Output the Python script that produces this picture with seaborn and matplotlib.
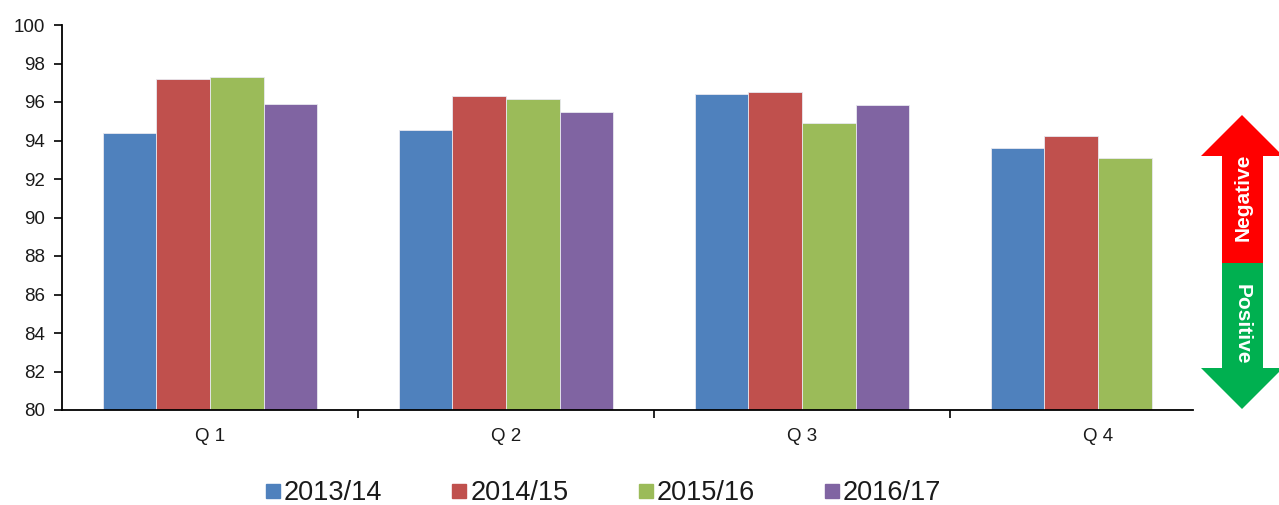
import matplotlib
matplotlib.use("Agg")
import matplotlib.pyplot as plt
from matplotlib.patches import Polygon
from matplotlib.lines import Line2D
import numpy as np
import pandas as pd
import seaborn as sns

quarters = ["Q 1", "Q 2", "Q 3", "Q 4"]
years = ["2013/14", "2014/15", "2015/16", "2016/17"]
v_2013 = [94.4, 94.55, 96.4, 93.6]
v_2014 = [97.2, 96.3, 96.5, 94.25]
v_2015 = [97.3, 96.15, 94.9, 93.1]
v_2016 = [95.9, 95.5, 95.85, np.nan]
colors = ["#4F81BD", "#C0504D", "#9BBB59", "#8064A2"]

rows = []
for yr, vals in zip(years, [v_2013, v_2014, v_2015, v_2016]):
    for q, v in zip(quarters, vals):
        rows.append({"Quarter": q, "Year": yr, "Value": v})
df = pd.DataFrame(rows)

sns.set_theme(style="white")
plt.rcParams["font.family"] = ["Liberation Sans", "DejaVu Sans"]

W, H = 1279, 505
fig = plt.figure(figsize=(W / 100, H / 100), dpi=100)
ax = fig.add_axes([62 / W, 1 - 410 / H, (1246 - 62) / W, (410 - 25) / H])

sns.barplot(data=df, x="Quarter", y="Value", hue="Year", order=quarters,
            hue_order=years, palette=colors, width=0.726, ax=ax,
            edgecolor="#E8E8F0", linewidth=0.6, legend=False, saturation=1)

ax.set_ylim(80, 100)
ax.set_xlim(-0.5, 3.5)
ax.set_yticks(np.arange(80, 101, 2))
ax.tick_params(axis="y", direction="out", length=6, width=1.2, colors="#000000",
               labelsize=13.5, left=True, pad=6)
for lbl in ax.get_yticklabels():
    lbl.set_color("#1a1a1a")
ax.set_xticks(range(4))
ax.set_xticklabels(quarters)
ax.tick_params(axis="x", length=0, labelsize=13.5, pad=13, labelcolor="#1a1a1a")
ax.set_xticks([0.5, 1.5, 2.5], minor=True)
ax.tick_params(axis="x", which="minor", direction="out", length=6, width=1.2,
               bottom=True, color="#000000")
ax.set_xlabel("")
ax.set_ylabel("")
for s in ["top", "right"]:
    ax.spines[s].set_visible(False)
for s in ["left", "bottom"]:
    ax.spines[s].set_color("#000000")
    ax.spines[s].set_linewidth(1.3)
ax.spines["bottom"].set_bounds(-0.5, 3.32)

handles = [Line2D([0], [0], marker="s", linestyle="none", markersize=10,
                  markerfacecolor=c, markeredgecolor=c) for c in colors]
fig.legend(handles, years, loc="center", bbox_to_anchor=(0.472, 1 - 493 / H),
           ncol=4, frameon=False, fontsize=19.5, handlelength=0.5,
           handletextpad=0.15, columnspacing=2.6, labelcolor="#1a1a1a")

def px(x):
    return x / W

def py(y):
    return 1 - y / H

cx = 1242
red = [(cx, 115), (cx - 41, 156), (1222, 156), (1222, 263), (1263, 263),
       (1263, 156), (cx + 41, 156)]
green = [(1222, 263), (1222, 368), (cx - 41, 368), (cx, 409), (cx + 41, 368),
         (1263, 368), (1263, 263)]
fig.patches.append(Polygon([(px(a), py(b)) for a, b in red], closed=True,
                           transform=fig.transFigure, facecolor="#FF0000",
                           edgecolor="none", figure=fig))
fig.patches.append(Polygon([(px(a), py(b)) for a, b in green], closed=True,
                           transform=fig.transFigure, facecolor="#00B050",
                           edgecolor="none", figure=fig))
fig.text(px(1243), py(197), "Negative", rotation=90, ha="center", va="center",
         color="white", fontsize=15, fontweight="bold")
fig.text(px(1242), py(324), "Positive", rotation=-90, ha="center", va="center",
         color="white", fontsize=15, fontweight="bold")

fig.savefig("out.png", dpi=100)
